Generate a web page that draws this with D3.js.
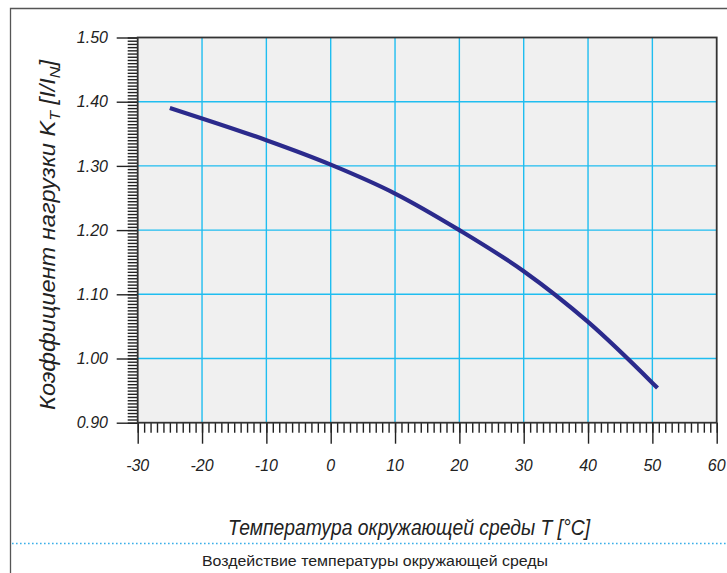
<!DOCTYPE html>
<html>
<head>
<meta charset="utf-8">
<title>Коэффициент нагрузки</title>
<script src="https://d3js.org/d3.v7.min.js"></script>
<style>
  body { margin: 0; background: #fff; }
  text { font-family: "Liberation Sans", Arial, sans-serif; }
</style>
</head>
<body>
<svg width="727" height="573"></svg>
<script>
// данные
var temps = [-25, -20, -10, 0, 10, 20, 30, 40, 50, 50.8];
var kt    = [1.390, 1.374, 1.340, 1.302, 1.257, 1.200, 1.136, 1.057, 0.962, 0.954];
var xTicks = [-30, -20, -10, 0, 10, 20, 30, 40, 50, 60];
var yTicks = [0.90, 1.00, 1.10, 1.20, 1.30, 1.40, 1.50];

var svg = d3.select("svg");
var plot = {left: 137.7, right: 716.7, top: 37.5, bottom: 422.7};

var x = d3.scaleLinear().domain([-30, 60]).range([plot.left, plot.right]);
var y = d3.scaleLinear().domain([0.9, 1.5]).range([plot.bottom, plot.top]);

// внешняя рамка
svg.append("path")
  .attr("d", "M10.5,573 L10.5,8.5 L727,8.5")
  .attr("fill", "none").attr("stroke", "#555").attr("stroke-width", 1.3);

// фон
svg.append("rect")
  .attr("x", plot.left).attr("y", plot.top)
  .attr("width", plot.right - plot.left).attr("height", plot.bottom - plot.top)
  .attr("fill", "#f0f0f0");

// сетка
var grid = svg.append("g").attr("stroke", "#1fbdf0").attr("stroke-width", 1.4);
grid.selectAll(".gx").data(xTicks.slice(1, -1)).enter().append("line")
  .attr("x1", d => x(d)).attr("x2", d => x(d))
  .attr("y1", plot.top).attr("y2", plot.bottom);
grid.selectAll(".gy").data(yTicks.slice(1, -1)).enter().append("line")
  .attr("x1", plot.left).attr("x2", plot.right)
  .attr("y1", d => y(d)).attr("y2", d => y(d));

// оси: мелкие и крупные риски
var xMinor = d3.range(-30, 60.01, 1);
var yMinor = d3.range(0.9, 1.5001, 0.005);

var xAxisMinor = d3.axisBottom(x).tickValues(xMinor).tickSize(10).tickFormat("");
var xAxisMajor = d3.axisBottom(x).tickValues(xTicks).tickSize(21).tickFormat("");
var yAxisMinor = d3.axisLeft(y).tickValues(yMinor).tickSize(10).tickFormat("");
var yAxisMajor = d3.axisLeft(y).tickValues(yTicks).tickSize(21).tickFormat("");

[xAxisMinor, xAxisMajor].forEach(function(a) {
  svg.append("g").attr("transform", "translate(0," + plot.bottom + ")").call(a)
    .call(g => g.select(".domain").remove())
    .selectAll("line").attr("stroke", "#222").attr("stroke-width", 1.4);
});
[yAxisMinor, yAxisMajor].forEach(function(a) {
  svg.append("g").attr("transform", "translate(" + plot.left + ",0)").call(a)
    .call(g => g.select(".domain").remove())
    .selectAll("line").attr("stroke", "#222").attr("stroke-width", 1.4);
});

// рамка области графика
svg.append("rect")
  .attr("x", plot.left).attr("y", plot.top)
  .attr("width", plot.right - plot.left).attr("height", plot.bottom - plot.top)
  .attr("fill", "none").attr("stroke", "#333").attr("stroke-width", 1.8);

// подписи рисок
svg.selectAll(".yl").data(yTicks).enter().append("text")
  .attr("x", 108).attr("y", d => y(d)).attr("dy", "0.36em")
  .attr("text-anchor", "end").attr("font-style", "italic").attr("font-size", 16)
  .attr("fill", "#222")
  .text(d => d.toFixed(2));
svg.selectAll(".xl").data(xTicks).enter().append("text")
  .attr("x", d => x(d)).attr("y", 471)
  .attr("text-anchor", "middle").attr("font-style", "italic").attr("font-size", 16)
  .attr("fill", "#222")
  .text(d => d);

// кривая
var line = d3.line()
  .x(d => x(d[0])).y(d => y(d[1]))
  .curve(d3.curveMonotoneX);
svg.append("path")
  .datum(temps.map((t, i) => [t, kt[i]]))
  .attr("d", line)
  .attr("fill", "none").attr("stroke", "#2b2a8c").attr("stroke-width", 4.2);

// подписи осей (шрифт узкий, как в оригинале)
var yt = svg.append("text")
  .attr("transform", "translate(55,235) rotate(-90)")
  .attr("text-anchor", "middle").attr("font-style", "italic").attr("font-size", 22)
  .attr("textLength", 350).attr("lengthAdjust", "spacingAndGlyphs")
  .attr("fill", "#222");
yt.append("tspan").text("Коэффициент нагрузки K");
yt.append("tspan").attr("font-size", 15).attr("dy", 5).text("T");
yt.append("tspan").attr("dy", -5).text(" [I/I");
yt.append("tspan").attr("font-size", 15).attr("dy", 5).text("N");
yt.append("tspan").attr("dy", -5).text("]");

svg.append("text")
  .attr("x", 409).attr("y", 535)
  .attr("text-anchor", "middle").attr("font-style", "italic").attr("font-size", 22)
  .attr("textLength", 362).attr("lengthAdjust", "spacingAndGlyphs")
  .attr("fill", "#222")
  .text("Температура окружающей среды T [°C]");

// пунктир и подпись
svg.append("line")
  .attr("x1", 12).attr("x2", 727).attr("y1", 543.5).attr("y2", 543.5)
  .attr("stroke", "#3aaee8").attr("stroke-width", 1.6)
  .attr("stroke-dasharray", "1.6,2.4");

svg.append("text")
  .attr("x", 375).attr("y", 566)
  .attr("text-anchor", "middle").attr("font-size", 15.5)
  .attr("textLength", 346).attr("lengthAdjust", "spacingAndGlyphs")
  .attr("fill", "#222")
  .text("Воздействие температуры окружающей среды");
</script>
</body>
</html>
